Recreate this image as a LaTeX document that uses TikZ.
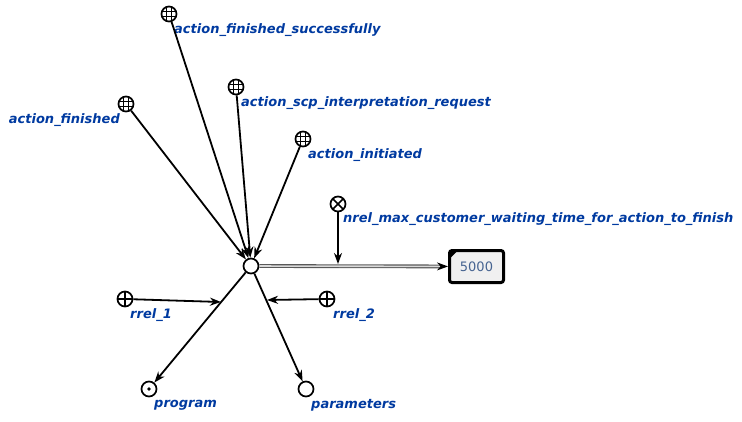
\documentclass[tikz,border=0pt]{standalone}
\usepackage{fontspec}
\setsansfont{DejaVu Sans}
\usetikzlibrary{arrows.meta}
\definecolor{lblblue}{RGB}{0,58,160}
\definecolor{valcol}{RGB}{70,100,145}
\begin{document}
\begin{tikzpicture}[x=1pt,y=-1pt,
  lbl/.style={font=\sffamily\bfseries\itshape\fontsize{13}{15}\selectfont, text=lblblue, inner sep=0pt},
  el/.style={circle, draw, line width=1.7pt, minimum size=15pt, inner sep=0pt},
  gridc/.style={el, path picture={
     \foreach \d in {-2.7,2.7}{
       \draw[line width=1pt,shift={(path picture bounding box.center)}] (\d pt,-9pt) -- (\d pt,9pt);
       \draw[line width=1pt,shift={(path picture bounding box.center)}] (-9pt,\d pt) -- (9pt,\d pt);}}},
  crossc/.style={el, path picture={
       \draw[line width=1.5pt,shift={(path picture bounding box.center)}] (-8pt,-8pt) -- (8pt,8pt) (-8pt,8pt) -- (8pt,-8pt);}},
  plusc/.style={el, path picture={
       \draw[line width=1.5pt,shift={(path picture bounding box.center)}] (-9pt,0pt) -- (9pt,0pt) (0pt,-9pt) -- (0pt,9pt);}},
  dotc/.style={el, path picture={
       \fill[shift={(path picture bounding box.center)}] (0pt,0pt) circle (1.8pt);}},
  arr/.style={-{Stealth[length=11pt,width=8pt,inset=3.5pt]}, line width=1.8pt},
  valbox/.style={draw, line width=3pt, rounded corners=2.5pt, minimum width=54pt, minimum height=32pt,
     fill=black!6, text=valcol, font=\sffamily\fontsize{13}{15}\selectfont},
  dbl/.style={double=white!85!black, double distance=1.6pt, draw=black!65, line width=1.1pt, -{Stealth[length=11pt,width=8pt,inset=3.5pt,color=black,fill=black]}},
]
\useasboundingbox (0,0) rectangle (742,421);

\node[el] (c) at (251,266) {};
\node[gridc] (afs) at (169,14) {};
\node[gridc] (asc) at (236,87) {};
\node[gridc] (af) at (126,104) {};
\node[gridc] (ai) at (303,139) {};
\node[crossc] (nrel) at (338,204) {};
\node[plusc] (r1) at (125,299) {};
\node[plusc] (r2) at (327,299) {};
\node[dotc] (prog) at (149,389) {};
\node[el] (par) at (306,389) {};
\node[valbox] (val) at (476.5,266.5) {5000};
\fill ([xshift=1.2pt,yshift=-1.2pt]val.north west) -- ++(9pt,0pt) -- ++(-9pt,-9pt) -- cycle;

\node[lbl, anchor=west] (lafs) at (174,30.5) {action\_finished\_successfully};
\node[lbl, anchor=west] (lasc) at (241,103.5) {action\_scp\_interpretation\_request};
\node[lbl, anchor=east] (laf) at (120,120.5) {action\_finished};
\node[lbl, anchor=west] (lai) at (308,155.5) {action\_initiated};
\node[lbl, anchor=west] (lnrel) at (343,219.5) {nrel\_max\_customer\_waiting\_time\_for\_action\_to\_finish};
\node[lbl, anchor=west] (lr1) at (130,315.5) {rrel\_1};
\node[lbl, anchor=west] (lr2) at (333,315.5) {rrel\_2};
\node[lbl, anchor=west] (lprog) at (154,405.5) {program};
\node[lbl, anchor=west] (lpar) at (311,405.5) {parameters};

\coordinate (m1) at (221,302);
\coordinate (m2) at (267,300);
\coordinate (m3) at (338,264);

\draw[arr] (afs) -- (c);
\draw[arr] (asc) -- (c);
\draw[arr] (af) -- (c);
\draw[arr] (ai) -- (c);
\draw[arr] (c) -- (prog);
\draw[arr] (c) -- (par);
\draw[dbl] (c) -- (val);
\draw[arr] (nrel) -- (m3);
\draw[arr] (r1) -- (m1);
\draw[arr] (r2) -- (m2);
\end{tikzpicture}
\end{document}
